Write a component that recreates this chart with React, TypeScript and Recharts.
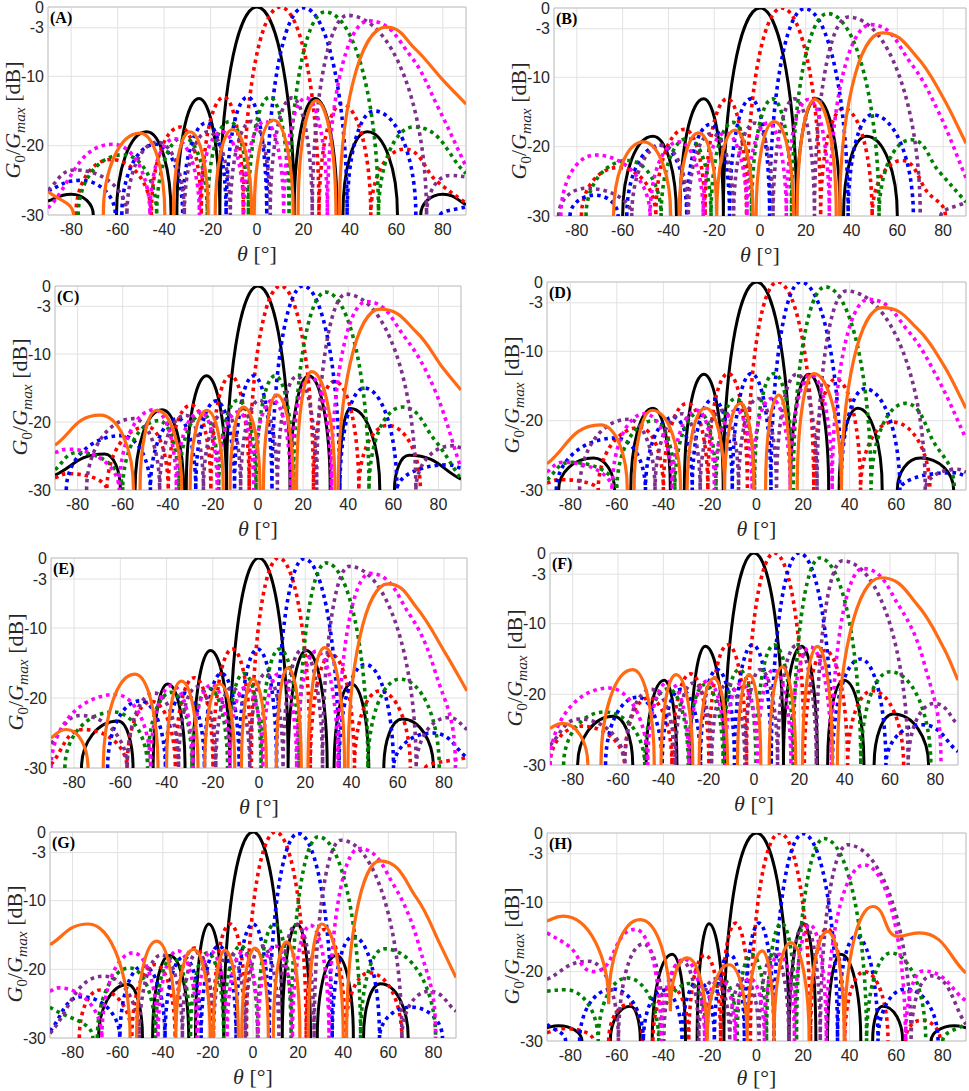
import React from 'react';
import { LineChart, Line, XAxis, YAxis, CartesianGrid, ReferenceArea } from 'recharts';

type Pt = [number, number] | null;

// ---------- tick labels ----------
const X_TICKS = [-80, -60, -40, -20, 0, 20, 40, 60, 80];
const Y_TICKS = [-30, -20, -10, -3, 0];

// ---------- Panel A ----------
const A_black: Pt[] = [[-90,-28],[-80,-27],[-70.5,-30],null,[-60.5,-30],[-47.5,-18],[-37,-30],null,[-34.5,-30],[-25,-13.2],[-16,-30],[0,0],[16,-30],[25,-13.2],[34.5,-30],null,[37,-30],[47.5,-18],[60.5,-30],null,[70.5,-30],[80,-27],[90,-28.5]];
const A_red: Pt[] = [[-78,-30],[-63,-22],[-45.5,-30],[-33,-17.3],[-24,-30],[-14.2,-13],[-5.9,-30],[10,0],[26.7,-30],[36.5,-14],[49,-30],[63.4,-20.5],[77,-25],[90,-28.3]];
const A_blue: Pt[] = [[-90,-26.5],[-76,-25],[-61,-30],null,[-58.2,-30],[-43.6,-19.8],[-32,-30],[-21.7,-16.7],[-13.3,-30],[-4,-13],[4.2,-30],[20,-0.1],[38.8,-30],[50.4,-15],[68.4,-30],null,[79,-30],[90,-28.8]];
const A_green: Pt[] = [[-77,-30],[-57.7,-21.3],[-43.2,-30],[-31.7,-18.8],[-21.4,-30],[-11.8,-16.5],[-3.7,-30],[5.5,-13],[13.8,-30],[29.3,-0.7],[52.3,-30],[67.5,-17.3],[90,-24]];
const A_purple: Pt[] = [[-90,-26.4],[-78.5,-23.5],[-56,-30],[-42.8,-19.5],[-31.3,-30],[-21.1,-18],[-11.5,-30],[-2.3,-16.5],[5.7,-30],[15.1,-13.1],[23.8,-30],[39,-1.2],[73,-30],[83,-24.3],[90,-24.5]];
const A_magenta: Pt[] = [[-90,-29],[-62,-19.8],[-46.1,-30],[-35.5,-19],[-24.8,-30],[-15.1,-18],[-5.7,-30],[3.4,-16.5],[11.5,-30],[21.1,-13.1],[30.3,-30],[48,-2],[66,-7],[78,-14.5],[90,-23]];
const A_orange: Pt[] = [[-90,-26.6],[-79,-30],null,[-66.2,-30],[-50.4,-18.2],[-39.7,-30],null,[-36,-30],[-28.9,-18],[-21,-30],null,[-18,-30],[-10.5,-17.7],[-2.3,-30],null,[-1.2,-30],[7,-16.3],[15.6,-30],null,[17.7,-30],[25.5,-13.5],[34,-30],null,[35.5,-30],[55.5,-2.9],[68,-6],[80,-10.5],[90,-14]];

// ---------- Panel B ----------
const B_black: Pt[] = [[-60,-30],[-46.8,-18.5],[-36.5,-30],null,[-35,-30],[-24.6,-13.1],[-16,-30],[0,0],[16,-30],[24.6,-13.1],[35,-30],null,[36.5,-30],[46.5,-18.5],[60,-30]];
const B_red: Pt[] = [[-78,-30],[-62,-23],[-45.5,-30],[-33,-17.5],[-24,-30],[-14.2,-13.1],[-5.9,-30],[9.5,0],[26.5,-30],[36.5,-14.5],[49,-30],[62,-22],[73,-26.5],[81,-30]];
const B_blue: Pt[] = [[-83,-30],[-72,-27],[-62,-30],null,[-58.2,-30],[-43.6,-19.8],[-32,-30],[-21.7,-16.8],[-13.3,-30],[-4,-13.1],[4.2,-30],[19.5,-0.1],[38.5,-30],[49,-15.4],[67,-30]];
const B_green: Pt[] = [[-76,-30],[-57.7,-22],[-43.2,-30],[-31.7,-18.8],[-21.4,-30],[-11.8,-16.5],[-3.7,-30],[5.5,-13.1],[13.8,-30],[29.5,-0.8],[52,-30],[66,-19],[78,-23.5],[90,-28]];
const B_purple: Pt[] = [[-88,-30],[-76,-26],[-56,-30],[-42.8,-19.8],[-31.3,-30],[-21.1,-18.1],[-11.5,-30],[-2.3,-16.6],[5.7,-30],[15.1,-13.1],[23.8,-30],[38.5,-1.3],[70,-30],null,[79,-30],[90,-28]];
const B_magenta: Pt[] = [[-87,-30],[-72,-21.2],[-48,-30],[-35.5,-19.3],[-24.8,-30],[-15.1,-18],[-5.7,-30],[3.4,-16.6],[11.5,-30],[21.1,-13.2],[30.3,-30],[48.4,-2.4],[66,-8],[78,-15],[90,-24.5]];
const B_orange: Pt[] = [[-64,-30],[-51,-19.3],[-39,-30],null,[-35.3,-30],[-26.8,-18],[-18.9,-30],[-11,-17.6],[-3.1,-30],null,[-1.7,-30],[6.2,-16.4],[14.7,-30],null,[16.2,-30],[24,-13.2],[33.3,-30],null,[34.8,-30],[53.4,-3.6],[68.4,-7],[79.8,-12.8],[90,-19.5]];

// ---------- Panel C ----------
const C_black: Pt[] = [[-90,-27.8],[-68,-24.7],[-61,-30],null,[-54.5,-30],[-42.5,-18.2],[-33,-30],null,[-31.8,-30],[-22.8,-13.2],[-14,-30],[0,0],[14.2,-30],[22.5,-13.2],[32,-30],null,[36,-30],[41,-18],[54,-30],null,[60.5,-30],[67,-24.9],[90,-28.4]];
const C_red: Pt[] = [[-90,-28.2],[-84,-27.6],[-67,-30],[-49.1,-20.7],[-39.8,-30],[-29.7,-17.5],[-20.9,-30],[-12.1,-13.2],[-3.9,-30],[10,0],[24.6,-30],[33.9,-14],[44.7,-30],[57.5,-20.5],[72,-30]];
const C_blue: Pt[] = [[-85,-30],[-60.5,-22],[-47.7,-30],[-35.5,-19.5],[-27.6,-30],[-18.6,-16.9],[-10.4,-30],[-1.9,-13.2],[6.2,-30],[20,0],[36.3,-30],[47.1,-15],[61.6,-30],[84,-26.3],[90,-26.8]];
const C_green: Pt[] = [[-90,-27],[-80,-24.5],[-60,-30],[-44,-19.8],[-35.1,-30],[-24.5,-18.8],[-17.4,-30],[-8.9,-16.8],[-0.9,-30],[7.6,-13.2],[15.8,-30],[30,-0.9],[49.2,-30],[63.9,-17.8],[78,-22.5],[90,-28.4]];
const C_purple: Pt[] = [[-76,-30],[-55.1,-19.5],[-43.6,-30],[-32,-19],[-24.2,-30],[-14.5,-18.5],[-7.7,-30],[0.6,-16.8],[8.6,-30],[17.3,-13.3],[26,-30],[39,-1.2],[70,-30],[86,-23.5],[90,-23.8]];
const C_magenta: Pt[] = [[-90,-24.5],[-84,-24],[-61.5,-30],[-46,-18.2],[-36.2,-30],[-25.5,-18.5],[-18.1,-30],[-8.6,-18.5],[-1.9,-30],[6.4,-16.8],[14.5,-30],[23.4,-13.4],[32.5,-30],[48,-2.3],[65,-7.5],[78,-15],[90,-26.8]];
const C_orange: Pt[] = [[-90,-23.4],[-70,-19],[-55.2,-30],null,[-52.3,-30],[-44.9,-18.3],[-33.8,-30],null,[-30.1,-30],[-22.7,-18.3],[-15.4,-30],null,[-12.4,-30],[-6.5,-17.8],[0.9,-30],null,[2.4,-30],[8.3,-16],[15.7,-30],null,[17.1,-30],[23.8,-12.6],[34.1,-30],null,[35.6,-30],[54,-3.4],[70.3,-6.8],[82.1,-12.1],[90,-15.3]];

// ---------- Panel D ----------
const D_black: Pt[] = [[-85,-30],[-70,-25.4],[-61,-30],null,[-54,-30],[-44.5,-18.2],[-37,-30],null,[-31,-30],[-22.6,-13.3],[-14.3,-30],[0,0],[14.6,-30],[22.5,-13.3],[31,-30],null,[35.5,-30],[43.5,-18.2],[54,-30],null,[60.5,-30],[70.4,-25.4],[84.7,-30]];
const D_red: Pt[] = [[-90,-29],[-84,-28.5],[-68,-30],[-50,-21],[-40,-30],[-29.7,-17.5],[-20.9,-30],[-12.1,-13.2],[-3.9,-30],[9,0],[24.6,-30],[34,-14],[44.7,-30],[58.5,-20.2],[74.5,-30]];
const D_blue: Pt[] = [[-86,-30],[-60.5,-22.5],[-47.7,-30],[-35.5,-19.5],[-27.6,-30],[-18.6,-16.9],[-10.4,-30],[-2.2,-13.2],[6.2,-30],[19,0],[36.3,-30],[46.5,-15.4],[61.6,-30],[84,-27.5],[90,-28]];
const D_green: Pt[] = [[-90,-28.5],[-80,-26],[-60,-30],[-44,-20],[-35.1,-30],[-24.5,-18.8],[-17.4,-30],[-8.9,-16.8],[-0.9,-30],[7.6,-13.2],[15.8,-30],[29.5,-0.7],[49.2,-30],[64,-17.5],[76,-23],[85,-30]];
const D_purple: Pt[] = [[-76,-30],[-55.1,-19.8],[-43.6,-30],[-32,-19],[-24.2,-30],[-14.5,-18.5],[-7.7,-30],[0.6,-16.8],[8.6,-30],[17.3,-13.3],[26,-30],[38.5,-1.3],[72.5,-30],[86,-27],[90,-27.4]];
const D_magenta: Pt[] = [[-90,-27.4],[-83,-26],[-62,-30],[-48,-19],[-36.2,-30],[-25.5,-18.5],[-18.1,-30],[-8.6,-18.5],[-1.9,-30],[6.4,-16.8],[14.5,-30],[23.4,-13.4],[32.5,-30],[48,-2.5],[65,-7],[78,-14],[90,-22.6]];
const D_orange: Pt[] = [[-90,-26.2],[-67,-20.6],[-55.5,-30],null,[-52.6,-30],[-44.8,-18.5],[-32.6,-30],null,[-29.8,-30],[-21.9,-18.2],[-13.7,-30],[-6.9,-17.5],[-1.1,-30],null,[3.9,-30],[9.6,-16.3],[14.6,-30],null,[17.5,-30],[24.6,-13.2],[36.5,-30],[54,-3.7],[69,-6.7],[80.4,-12],[90,-18.2]];

// ---------- Panel E ----------
const E_black: Pt[] = [[-76.8,-30],[-61,-23.3],[-54.5,-30],null,[-45.8,-30],[-39.5,-18],[-32,-30],null,[-28.5,-30],[-21,-13.2],[-12.6,-30],[0,0],[12.6,-30],[20.5,-13.2],[29.5,-30],null,[32.5,-30],[40,-18],[47.5,-30],null,[54,-30],[62,-23],[75.5,-30]];
const E_red: Pt[] = [[-90,-29.5],[-76,-24.5],[-57.1,-30],[-46.5,-20.5],[-36.2,-30],[-28,-17.1],[-19.9,-30],[-11.5,-13],[-3.3,-30],[8.5,0],[22.2,-30],[31.3,-13.8],[41.3,-30],[52.2,-19],[65.5,-30],null,[72,-30],[90,-28.5]];
const E_blue: Pt[] = [[-65.5,-30],[-51.3,-20.4],[-40.5,-30],[-32.3,-19.3],[-23.6,-30],[-16.3,-16.5],[-8.6,-30],[-0.6,-13],[7.6,-30],[19.5,-0.1],[34.6,-30],[46,-15.2],[58.2,-30],[75,-25],[90,-28.5]];
const E_green: Pt[] = [[-84,-30],[-63,-22],[-48.2,-30],[-38,-19.2],[-29,-30],[-21.7,-18.6],[-13.6,-30],[-6.6,-16.5],[0.9,-30],[8.9,-13],[17.3,-30],[29,-0.7],[47.1,-30],[61,-17.3],[78,-30]];
const E_purple: Pt[] = [[-90,-26.5],[-77,-22.5],[-57,-30],[-45.2,-19.3],[-34.8,-30],[-26.7,-18.4],[-18.7,-30],[-11.8,-18.5],[-4,-30],[2.9,-16.5],[10.4,-30],[18.7,-13.1],[27.5,-30],[39,-1.2],[68,-30],[82,-22.8],[90,-24.5]];
const E_magenta: Pt[] = [[-90,-30],[-62,-19.5],[-46.9,-30],[-37.6,-18.2],[-28.7,-30],[-20.5,-18.1],[-12.7,-30],[-6,-18.5],[1.7,-30],[8.6,-16.5],[16.3,-30],[24.8,-13.3],[34.2,-30],[48,-2.2],[65,-8],[76,-16],[85,-30]];
const E_orange: Pt[] = [[-90,-25.7],[-83.3,-24.5],[-74,-30],null,[-67.4,-30],[-53.7,-16.6],[-43.7,-30],null,[-40,-30],[-33.6,-17.6],[-26.4,-30],null,[-23.5,-30],[-17,-18],[-10.5,-30],null,[-7.6,-30],[-2.6,-17.3],[3.2,-30],null,[7.5,-30],[12.5,-15.7],[18.3,-30],null,[21.2,-30],[28.4,-12.8],[37,-30],null,[38.5,-30],[55.8,-3.7],[68,-7],[81,-13.8],[90,-19]];

// ---------- Panel F ----------
const F_black: Pt[] = [[-77.8,-30],[-62,-23.1],[-53.5,-30],null,[-47.6,-30],[-39.6,-18],[-34,-30],null,[-28,-30],[-21.5,-13.2],[-13,-30],[0,0],[13,-30],[21,-13.2],[28,-30],null,[32.5,-30],[39.7,-18],[48.5,-30],null,[53,-30],[61.5,-22.8],[77,-30]];
const F_red: Pt[] = [[-90,-30],[-76,-24.5],[-57.1,-30],[-46.5,-20.5],[-36.2,-30],[-28,-17.1],[-19.9,-30],[-11.5,-13],[-3.3,-30],[9,0],[22.2,-30],[31.3,-13.8],[41.3,-30],[52.2,-19.5],[66,-30]];
const F_blue: Pt[] = [[-65.5,-30],[-51.3,-20.4],[-40.5,-30],[-32.3,-19.3],[-23.6,-30],[-16.3,-16.5],[-8.6,-30],[-0.6,-13],[7.6,-30],[20,0],[34.6,-30],[47,-15],[58.2,-30],[74,-24.3],[90,-28.1]];
const F_green: Pt[] = [[-84,-30],[-66,-22.5],[-48.2,-30],[-38,-19.2],[-29,-30],[-21.7,-18.6],[-13.6,-30],[-6.6,-16.5],[0.9,-30],[8.9,-13],[17.3,-30],[29,-0.7],[47.1,-30],[60,-16.8],[78,-30]];
const F_purple: Pt[] = [[-90,-27.2],[-77,-23.5],[-57,-30],[-45.2,-19.3],[-34.8,-30],[-26.7,-18.4],[-18.7,-30],[-11.8,-18.5],[-4,-30],[2.9,-16.5],[10.4,-30],[18.7,-13.1],[27.5,-30],[39,-1.1],[68,-30],[79.5,-21.3],[90,-24.3]];
const F_magenta: Pt[] = [[-90,-30],[-64,-19.1],[-46.9,-30],[-37.6,-18.2],[-28.7,-30],[-20.5,-18.1],[-12.7,-30],[-6,-18.5],[1.7,-30],[8.6,-16.5],[16.3,-30],[24.8,-13.3],[34.2,-30],[48,-2.2],[64,-7.5],[75,-15.5],[82.5,-30]];
const F_orange: Pt[] = [[-90,-24.8],[-84.4,-24.1],[-73.3,-30],null,[-67.5,-30],[-53.5,-16.5],[-44,-30],null,[-41,-30],[-34.4,-17.2],[-27,-30],null,[-24.2,-30],[-17.6,-17.7],[-11.7,-30],null,[-7.3,-30],[-2.1,-17.2],[3,-30],null,[6.7,-30],[12.5,-16.1],[18.4,-30],null,[21.4,-30],[28,-13.2],[34.6,-30],null,[36.8,-30],[55.9,-3.5],[72,-7.3],[83.8,-13.5],[90,-18]];

// ---------- Panel G ----------
const G_black: Pt[] = [[-68.5,-30],[-55.5,-22.2],[-49,-30],null,[-44.5,-30],[-37,-18],[-28.5,-30],null,[-25.5,-30],[-19.6,-13.4],[-13,-30],[0,0],[13,-30],[19.6,-13.4],[25.5,-30],null,[28.5,-30],[37,-18],[44.5,-30],null,[49,-30],[56.5,-22.1],[68.8,-30]];
const G_red: Pt[] = [[-77,-30],[-67.8,-23],[-53.7,-30],[-43.3,-19.3],[-34.5,-30],[-25.8,-16.9],[-17.8,-30],[-10.1,-13.4],[-2.9,-30],[10,0],[23.6,-30],[31.6,-14.2],[40.8,-30],[51.6,-20.5],[66,-30]];
const G_blue: Pt[] = [[-90,-29],[-76,-24],[-59,-30],[-48.6,-19.5],[-39,-30],[-30.7,-18.2],[-23,-30],[-15.1,-16.6],[-7.5,-30],[0,-13.4],[7.2,-30],[20,-0.2],[35.1,-30],[44.4,-15.2],[56.1,-30],[70,-25.5],[84,-30]];
const G_green: Pt[] = [[-90,-25.5],[-71,-30],null,[-69,-30],[-54.6,-19.8],[-43.2,-30],[-35.8,-18.3],[-27.7,-30],[-20.2,-17.6],[-13,-30],[-5.5,-16.6],[2,-30],[9.5,-13.4],[16.9,-30],[29,-0.7],[47.7,-30],[58,-17],[81,-30]];
const G_purple: Pt[] = [[-90,-29.3],[-66,-21],[-50.4,-30],[-40.5,-17.9],[-31.3,-30],[-24.8,-17.6],[-17.5,-30],[-10.4,-17.5],[-3.4,-30],[4,-16.6],[11.5,-30],[19.3,-13.5],[27.1,-30],[39,-1.2],[66,-30],[78,-23.2],[90,-26.1]];
const G_magenta: Pt[] = [[-90,-23.2],[-86,-22.7],[-67,-30],[-53,-17.6],[-42.1,-30],[-33.4,-17.3],[-24.8,-30],[-18.7,-17.4],[-11.5,-30],[-4.6,-17.5],[2.3,-30],[9.8,-16.6],[17.5,-30],[25.5,-13.6],[33.7,-30],[47,-2.4],[62,-7.5],[74,-17],[81,-30]];
const G_orange: Pt[] = [[-90,-16.4],[-73,-13.4],[-54.5,-30],null,[-51.6,-30],[-42.7,-15.9],[-34.2,-30],[-26.4,-17.1],[-19,-30],null,[-17.6,-30],[-12.4,-17.2],[-6.5,-30],null,[-5,-30],[0.9,-16.9],[6.8,-30],null,[9,-30],[14.9,-16],[20.8,-30],null,[24.5,-30],[30.4,-13.4],[40,-30],null,[41.5,-30],[56.3,-4.2],[72.5,-9.6],[83,-16.4],[90,-21.2]];

// ---------- Panel H ----------
const H_black: Pt[] = [[-90,-28.1],[-85,-27.8],[-75,-30],null,[-62.8,-30],[-54.2,-25],[-49.9,-30],null,[-44.8,-30],[-36.2,-17.5],[-30.5,-30],null,[-25.5,-30],[-20.4,-13.1],[-14,-30],[0,0],[14,-30],[20.4,-13.1],[25.5,-30],null,[30.5,-30],[36.2,-17.5],[44.8,-30],null,[49.9,-30],[54.2,-25],[62.8,-30],null,[75,-30],[85,-27.8],[90,-28.1]];
const H_red: Pt[] = [[-90,-28.8],[-82,-28.2],[-70,-30],null,[-63.5,-30],[-54.7,-24.7],[-49,-30],null,[-44.5,-30],[-36.6,-22.2],[-29.1,-30],[-22.1,-17.6],[-15.4,-30],[-9,-13],[-2.6,-30],[10,0],[23.2,-30],[30.3,-13.8],[37.9,-30],[46.4,-20],[56.5,-30],null,[64,-30],[70.7,-27],[79,-30]];
const H_blue: Pt[] = [[-90,-27.6],[-82,-30],null,[-76,-30],[-62,-22.5],[-48.6,-30],[-39.8,-22.7],[-32,-30],[-24.8,-21.4],[-18.1,-30],[-11.5,-17.5],[-5.2,-30],[1.1,-13],[7.5,-30],[20,-0.1],[34.8,-30],[42.8,-14.9],[52.2,-30],[64.2,-22.5],[78,-30]];
const H_green: Pt[] = [[-90,-22.8],[-82,-22.6],[-68,-30],[-55.6,-20.9],[-42,-30],[-28.4,-21.7],[-21.4,-30],[-14.8,-21],[-8.3,-30],[-2,-17.5],[4.3,-30],[10.7,-13],[17.2,-30],[29,-0.8],[47.3,-30],[57.7,-17.3],[72.7,-30],null,[80,-30],[90,-27.5]];
const H_purple: Pt[] = [[-90,-21.1],[-72,-18.5],[-59.3,-30],[-48.6,-16],[-39.8,-30],[-32,-18.5],[-24.8,-30],[-18.1,-21.1],[-11.5,-30],[-5.2,-21],[1.1,-30],[7.5,-17.5],[13.9,-30],[20.5,-13.1],[27.4,-30],[39,-1.7],[66.4,-30],[75,-20.6],[90,-27.6]];
const H_magenta: Pt[] = [[-90,-14.4],[-80,-16.5],[-70,-20],[-52,-13.9],[-41,-30],[-31,-18.2],[-22.3,-30],[-15.7,-21],[-9.2,-30],[-2.9,-21],[3.4,-30],[9.8,-17.5],[16.3,-30],[23,-13.3],[30,-30],[46.3,-4.6],[64,-30],[71.4,-19.9],[90,-24.2]];
const H_orange: Pt[] = [[-90,-12.7],[-83,-12],[-63.5,-24.7],[-50,-12.5],[-37,-25.7],[-29.8,-18],[-21.2,-30],[-11.8,-19],[-4,-30],[2.5,-17],[7.5,-30],[14.7,-15.8],[22.6,-30],[30.5,-14.2],[37.7,-30],[49.9,-10.6],[60.6,-14.9],[70,-14.4],[90,-20.2]];

// ---------- series styles (order: black, red, blue, green, purple, magenta, orange) ----------
const SERIES_STYLE = [
  { color: '#000000', width: 3, dash: undefined as string | undefined },
  { color: '#FF0000', width: 3.6, dash: '3.6 4' },
  { color: '#0000FF', width: 3.6, dash: '3.6 4' },
  { color: '#008000', width: 3.6, dash: '3.6 4' },
  { color: '#7E2F8E', width: 3.6, dash: '3.6 4' },
  { color: '#FF00FF', width: 3.6, dash: '3.6 4' },
  { color: '#FF6A13', width: 3.2, dash: undefined as string | undefined },
];

const PANELS = [
  { tag: 'A', left: 48, top: 7, w: 418, h: 208, series: [A_black, A_red, A_blue, A_green, A_purple, A_magenta, A_orange] },
  { tag: 'B', left: 554, top: 8, w: 412, h: 208, series: [B_black, B_red, B_blue, B_green, B_purple, B_magenta, B_orange] },
  { tag: 'C', left: 55, top: 286, w: 406, h: 204, series: [C_black, C_red, C_blue, C_green, C_purple, C_magenta, C_orange] },
  { tag: 'D', left: 547, top: 282, w: 419, h: 208, series: [D_black, D_red, D_blue, D_green, D_purple, D_magenta, D_orange] },
  { tag: 'E', left: 51, top: 558, w: 416, h: 210, series: [E_black, E_red, E_blue, E_green, E_purple, E_magenta, E_orange] },
  { tag: 'F', left: 550, top: 553, w: 408, h: 212, series: [F_black, F_red, F_blue, F_green, F_purple, F_magenta, F_orange] },
  { tag: 'G', left: 50, top: 832, w: 406, h: 206, series: [G_black, G_red, G_blue, G_green, G_purple, G_magenta, G_orange] },
  { tag: 'H', left: 547, top: 833, w: 419, h: 208, series: [H_black, H_red, H_blue, H_green, H_purple, H_magenta, H_orange] },
];

function toData(pts: Pt[]) {
  const out: { x: number; y: number | null }[] = [];
  for (let i = 0; i < pts.length; i++) {
    const p = pts[i];
    if (p === null) {
      const a = pts[i - 1] as [number, number];
      const b = pts[i + 1] as [number, number];
      out.push({ x: (a[0] + b[0]) / 2, y: null });
    } else {
      out.push({ x: p[0], y: p[1] });
    }
  }
  return out;
}

// Curve factory: lobes drawn as arcs (flat at maxima, vertical at nulls)
function makeArchCurve(floorY: number, smoothY: number) {
  const draw = (ctx: any, pts: [number, number][]) => {
    const n = pts.length;
    if (!n) return;
    ctx.moveTo(pts[0][0], pts[0][1]);
    if (n === 1) return;
    const kind = pts.map((p, i) => {
      const prev = pts[i - 1];
      const next = pts[i + 1];
      if (!prev || !next) {
        return Math.abs(p[1] - floorY) < 0.8 ? 'v' : 'c';
      }
      const isMax = p[1] <= prev[1] && p[1] <= next[1];
      const isMin = p[1] >= prev[1] && p[1] >= next[1];
      if (isMax) return 'h';
      if (isMin) return p[1] >= smoothY ? 'v' : 'h';
      return 'c';
    });
    const dirs = pts.map((_p, i) => {
      const a = pts[Math.max(0, i - 1)];
      const b = pts[Math.min(n - 1, i + 1)];
      const dx = b[0] - a[0];
      const dy = b[1] - a[1];
      const L = Math.hypot(dx, dy) || 1;
      return [dx / L, dy / L];
    });
    const K = 0.552;
    const C = 0.36;
    for (let i = 0; i < n - 1; i++) {
      const [x0, y0] = pts[i];
      const [x1, y1] = pts[i + 1];
      const dx = x1 - x0;
      const dy = y1 - y0;
      const dist = Math.hypot(dx, dy);
      let c1x: number, c1y: number, c2x: number, c2y: number;
      if (kind[i] === 'h') { c1x = x0 + K * dx; c1y = y0; }
      else if (kind[i] === 'v') { c1x = x0; c1y = y0 + K * dy; }
      else { c1x = x0 + dirs[i][0] * C * dist; c1y = y0 + dirs[i][1] * C * dist; }
      if (kind[i + 1] === 'h') { c2x = x1 - K * dx; c2y = y1; }
      else if (kind[i + 1] === 'v') { c2x = x1; c2y = y1 - K * dy; }
      else { c2x = x1 - dirs[i + 1][0] * C * dist; c2y = y1 - dirs[i + 1][1] * C * dist; }
      ctx.bezierCurveTo(c1x, c1y, c2x, c2y, x1, y1);
    }
  };
  return (context: any) => {
    let pts: [number, number][] = [];
    return {
      areaStart() {},
      areaEnd() {},
      lineStart() { pts = []; },
      lineEnd() { draw(context, pts); pts = []; },
      point(x: number, y: number) { pts.push([+x, +y]); },
    };
  };
}

const MT = 12;
const YW = 60;
const XH = 50;
const MR = 3;
const TICK = { fontSize: 16, fill: '#262626', fontFamily: '"Liberation Sans", Arial, sans-serif' };
const SERIF = '"Liberation Serif", "Times New Roman", serif';

function Panel({ p }: { p: typeof PANELS[number] }) {
  const curve = React.useMemo(() => makeArchCurve(MT + p.h, MT + (p.h * 22) / 30), [p.h]);
  const datas = React.useMemo(() => p.series.map((s) => toData(s)), [p]);
  const xLabelTop = Math.min(p.top + p.h + 39, 1091 - 13);
  return (
    <>
      <div style={{ position: 'absolute', left: p.left - YW, top: p.top - MT }}>
        <LineChart
          width={p.w + YW + MR}
          height={p.h + MT + XH}
          margin={{ top: MT, right: MR, bottom: 0, left: 0 }}
        >
          <CartesianGrid stroke="#e2e2e2" strokeWidth={1} />
          <XAxis
            type="number"
            dataKey="x"
            domain={[-90, 90]}
            ticks={X_TICKS}
            interval={0}
            allowDataOverflow
            tickLine={false}
            axisLine={false}
            height={XH}
            tick={TICK}
            tickSize={6}
            tickMargin={3}
          />
          <YAxis
            type="number"
            domain={[-30, 0]}
            ticks={Y_TICKS}
            interval={0}
            allowDataOverflow
            tickLine={false}
            axisLine={false}
            width={YW}
            tick={TICK}
            tickSize={2}
            tickMargin={2}
          />
          <ReferenceArea x1={-90} x2={90} y1={-30} y2={0} fill="none" stroke="#c4c4c4" strokeWidth={1} />
          {datas.map((d, i) => (
            <Line
              key={p.tag + i}
              data={d}
              dataKey="y"
              type={curve as any}
              stroke={SERIES_STYLE[i].color}
              strokeWidth={SERIES_STYLE[i].width}
              strokeDasharray={SERIES_STYLE[i].dash}
              strokeLinecap="butt"
              dot={false}
              activeDot={false}
              connectNulls={false}
              isAnimationActive={false}
            />
          ))}
        </LineChart>
      </div>
      <div
        style={{
          position: 'absolute',
          left: p.left - 35,
          top: p.top + p.h / 2 + 9,
          transform: 'translate(-50%, -50%) rotate(-90deg)',
          whiteSpace: 'nowrap',
          fontFamily: SERIF,
          fontSize: 22,
          color: '#262626',
          lineHeight: 1,
        }}
      >
        <i>G</i>
        <sub style={{ fontSize: '0.7em', lineHeight: 0 }}>0</sub>/<i>G</i>
        <sub style={{ fontSize: '0.7em', lineHeight: 0 }}>
          <i>max</i>
        </sub>{' '}
        [dB]
      </div>
      <div
        style={{
          position: 'absolute',
          left: p.left + p.w / 2,
          top: xLabelTop,
          transform: 'translate(-50%, -50%)',
          whiteSpace: 'nowrap',
          fontFamily: SERIF,
          fontSize: 22,
          color: '#262626',
          lineHeight: 1,
        }}
      >
        <i>θ</i> [°]
      </div>
      <div
        style={{
          position: 'absolute',
          left: p.left + 2,
          top: p.top + 3,
          fontFamily: SERIF,
          fontWeight: 'bold',
          fontSize: 16,
          color: '#000',
          lineHeight: 1,
        }}
      >
        ({p.tag})
      </div>
    </>
  );
}

export default function App() {
  return (
    <div style={{ position: 'absolute', left: 0, top: 0, width: 969, height: 1091, background: '#fff', overflow: 'hidden' }}>
      {PANELS.map((p) => (
        <Panel key={p.tag} p={p} />
      ))}
    </div>
  );
}
